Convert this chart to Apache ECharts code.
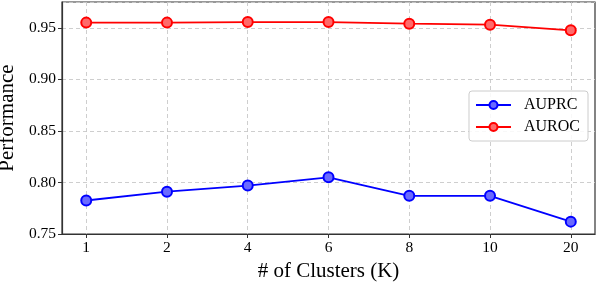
<!DOCTYPE html>
<html><head><meta charset="utf-8">
<script src="https://cdn.jsdelivr.net/npm/echarts@6/dist/echarts.min.js"></script>
<style>html,body{margin:0;padding:0;background:#fff}#c{width:598px;height:284px}</style>
</head><body><div id="c"></div>
<script>
const categories = ['1', '2', '4', '6', '8', '10', '20'];
const auprc = [0.7825, 0.791, 0.797, 0.805, 0.787, 0.787, 0.762];
const auroc = [0.955, 0.955, 0.9555, 0.9555, 0.954, 0.953, 0.9475];
const yTicks = [0.75, 0.80, 0.85, 0.90, 0.95];

const font = 'Liberation Serif, Times New Roman, serif';
const chart = echarts.init(document.getElementById('c'), null, {renderer: 'canvas'});
const idx = categories.map((_, i) => i);
function mk(name, vals, color, fill) {
  return {
    name, type: 'line', data: vals.map((v, i) => [i, v]),
    symbol: 'circle', symbolSize: 10,
    lineStyle: {color, width: 1.8},
    itemStyle: {color: fill, borderColor: color, borderWidth: 2},
    emphasis: {disabled: true}, animation: false
  };
}
chart.setOption({
  animation: false,
  grid: {left: 62, right: 3, top: 2, bottom: 50, show: true, borderColor: '#333', borderWidth: 1.2,
    outerBoundsMode: 'none', containLabel: false},
  xAxis: {
    type: 'value', min: -0.3, max: 6.3,
    name: '# of Clusters (K)', nameLocation: 'middle', nameGap: 24,
    nameTextStyle: {fontFamily: font, fontSize: 21, color: '#000'},
    axisLine: {show: true, onZero: false, lineStyle: {color: '#333', width: 1.2}},
    axisTick: {show: true, length: 4, lineStyle: {color: '#333'}, customValues: idx},
    axisLabel: {customValues: idx, fontFamily: font, fontSize: 15.5, color: '#000', margin: 6,
      formatter: v => categories[Math.round(v)] ?? ''},
    splitLine: {show: true, lineStyle: {color: '#c8c8c8', type: [4, 3], width: 0.9}}
  },
  yAxis: {
    type: 'value', min: 0.75, max: 0.975, interval: 0.05,
    name: 'Performance', nameLocation: 'middle', nameGap: 41,
    nameTextStyle: {fontFamily: font, fontSize: 21, color: '#000'},
    axisLine: {show: true, onZero: false, lineStyle: {color: '#333', width: 1.2}},
    axisTick: {show: true, length: 4, lineStyle: {color: '#333'}},
    axisLabel: {fontFamily: font, fontSize: 15.5, color: '#000', margin: 6, showMaxLabel: false,
      formatter: v => yTicks.some(t => Math.abs(t - v) < 1e-6) ? v.toFixed(2) : ''},
    splitLine: {show: true, lineStyle: {color: '#c8c8c8', type: [4, 3], width: 0.9}}
  },
  legend: {
    right: 10, top: 91, orient: 'vertical',
    itemWidth: 35, itemHeight: 10, itemGap: 6,
    padding: [6, 8, 6, 6],
    backgroundColor: 'rgba(255,255,255,0.85)', borderColor: '#ccc', borderWidth: 1, borderRadius: 3,
    textStyle: {fontFamily: font, fontSize: 16, color: '#000', padding: [0, 0, 0, 8]},
    data: ['AUPRC', 'AUROC']
  },
  series: [
    mk('AUPRC', auprc, '#0000ff', '#6a6aff'),
    mk('AUROC', auroc, '#ff0000', '#ff6a6a')
  ]
});
</script></body></html>
